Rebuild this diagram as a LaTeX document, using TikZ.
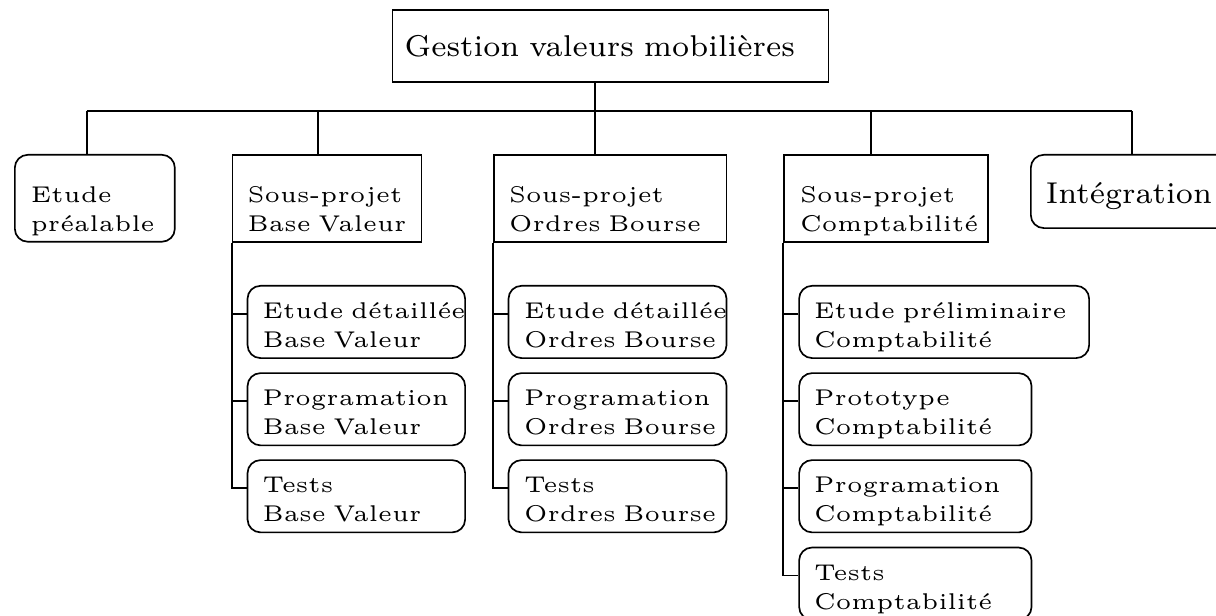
\documentclass[tikz,border=0pt]{standalone}
\usetikzlibrary{calc}

\tikzset{
  x=0.2392pt, y=-0.2392pt,
  box/.style={draw, line width=0.4pt, anchor=north west, inner ysep=0pt, align=left},
  roundbox/.style={box, rounded corners=3.1pt},
  bigtext/.style={font=\fontsize{7.2}{8.6}\selectfont},
  smalltext/.style={font=\fontsize{5.45}{6.94}\selectfont},
  lvlone/.style={smalltext, text height=11.41pt, text depth=9.38pt},
  lvltwo/.style={smalltext, text height=7.82pt, text depth=9.47pt},
  link/.style={draw, line width=0.4pt}
}

\begin{document}
\begin{tikzpicture}
\useasboundingbox (0,0) rectangle (1216,616);

% root
\node[box, bigtext, inner xsep=2.9pt, text width=98.49pt,
      text height=11.17pt, text depth=5.98pt] (root) at (391.7,9.3)
  {\mbox{Gestion valeurs mobilières}};

% first level
\node[roundbox, lvlone, inner xsep=3.83pt, text width=30.61pt] (etude) at (14,154)
  {Etude\\préalable};
\node[box, lvlone, inner xsep=3.59pt, text width=38.03pt] (spBV) at (231.7,154)
  {Sous-projet\\\mbox{Base Valeur}};
\node[box, lvlone, inner xsep=3.59pt, text width=48.41pt] (spOB) at (493.3,154)
  {Sous-projet\\\mbox{Ordres Bourse}};
\node[box, lvlone, inner xsep=3.83pt, text width=41.07pt] (spC) at (783.3,154)
  {Sous-projet\\Comptabilité};
\node[roundbox, bigtext, inner xsep=3.59pt, text width=40.66pt,
      text height=11.65pt, text depth=5.88pt] (integ) at (1030,154)
  {Intégration};

% Base Valeur tasks
\node[roundbox, lvltwo, inner xsep=3.59pt, text width=44.87pt] (bv1) at (246.7,285)
  {\mbox{Etude détaillée}\\\mbox{Base Valeur}};
\node[roundbox, lvltwo, inner xsep=3.59pt, text width=44.87pt] (bv2) at (246.7,372.3)
  {Programation\\\mbox{Base Valeur}};
\node[roundbox, lvltwo, inner xsep=3.59pt, text width=44.87pt] (bv3) at (246.7,459.3)
  {Tests\\\mbox{Base Valeur}};

% Ordres Bourse tasks
\node[roundbox, lvltwo, inner xsep=3.73pt, text width=44.69pt] (ob1) at (507.7,285)
  {\mbox{Etude détaillée}\\\mbox{Ordres Bourse}};
\node[roundbox, lvltwo, inner xsep=3.73pt, text width=44.69pt] (ob2) at (507.7,372.3)
  {Programation\\\mbox{Ordres Bourse}};
\node[roundbox, lvltwo, inner xsep=3.73pt, text width=44.69pt] (ob3) at (507.7,459.3)
  {Tests\\\mbox{Ordres Bourse}};

% Comptabilite tasks
\node[roundbox, lvltwo, inner xsep=3.59pt, text width=62.19pt] (c1) at (798.3,285)
  {\mbox{Etude préliminaire}\\Comptabilité};
\node[roundbox, lvltwo, inner xsep=3.59pt, text width=48.41pt] (c2) at (798.3,372.3)
  {Prototype\\Comptabilité};
\node[roundbox, lvltwo, inner xsep=3.59pt, text width=48.41pt] (c3) at (798.3,459.3)
  {Programation\\Comptabilité};
\node[roundbox, lvltwo, inner xsep=3.59pt, text width=48.41pt] (c4) at (798.3,546.7)
  {Tests\\Comptabilité};

% attachment points
\coordinate (bus) at (0,111);
\coordinate (cr)  at ($(root.south west)+(203.3,0)$);
\coordinate (ce)  at ($(etude.north west)+(72.7,0)$);
\coordinate (cbv) at ($(spBV.north west)+(86.6,0)$);
\coordinate (cob) at ($(spOB.north west)+(101.7,0)$);
\coordinate (cc)  at ($(spC.north west)+(87.4,0)$);
\coordinate (ci)  at ($(integ.north west)+(102.3,0)$);

% top-level tree
\path[link] (cr) -- (cob);
\path[link] (ce |- bus) -- (ci |- bus);
\path[link] (ce) -- (ce |- bus);
\path[link] (cbv) -- (cbv |- bus);
\path[link] (cc) -- (cc |- bus);
\path[link] (ci) -- (ci |- bus);

% sub-project trees
\foreach \n in {bv1,bv2,bv3,ob1,ob2,ob3,c1,c2,c3,c4}
  \coordinate (\n t) at ($(\n.north west)+(0,28.7)$);

\path[link] (spBV.south west) |- (bv3t);
\path[link] (bv1t) -- (bv1t -| spBV.south west);
\path[link] (bv2t) -- (bv2t -| spBV.south west);

\path[link] (spOB.south west) |- (ob3t);
\path[link] (ob1t) -- (ob1t -| spOB.south west);
\path[link] (ob2t) -- (ob2t -| spOB.south west);

\path[link] (spC.south west) |- (c4t);
\path[link] (c1t) -- (c1t -| spC.south west);
\path[link] (c2t) -- (c2t -| spC.south west);
\path[link] (c3t) -- (c3t -| spC.south west);
\end{tikzpicture}
\end{document}
